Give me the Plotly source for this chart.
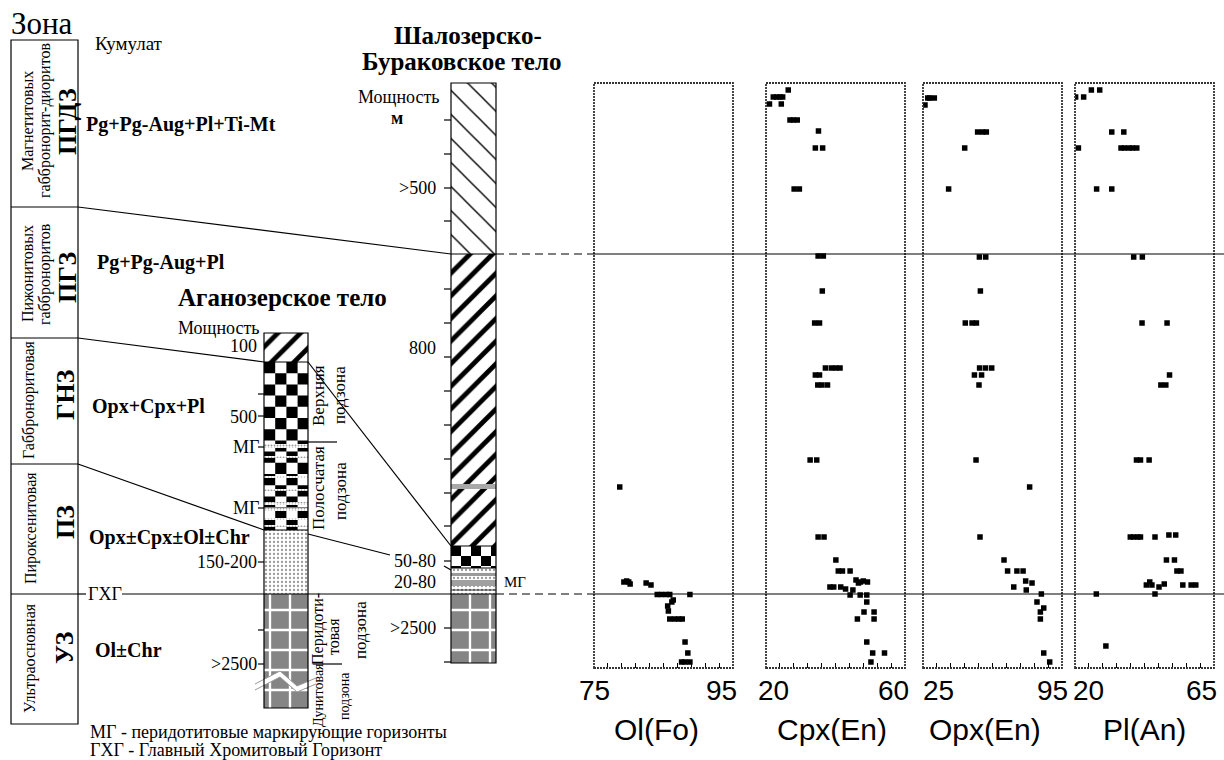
import plotly.graph_objects as go

# ======================= DATA =======================
panel_titles = ["Ol(Fo)", "Cpx(En)", "Opx(En)", "Pl(An)"]
panel_ranges = [(75, 95), (20, 60), (25, 95), (20, 65)]
panel_dticks = [2, 4, 7, 4.5]
panel_ticktext = [("75", "95"), ("20", "60"), ("25", "95"), ("20", "65")]

# stratigraphic level (image-row units of the section, top = 83, bottom = 668)
ol_fo = [78.7, 79.3, 79.7, 80.0, 80.2, 82.5, 83.2, 84.1, 84.7, 85.4, 85.9, 88.8,
         85.6, 86.2, 85.7, 86.4, 85.9, 86.6, 87.2, 87.7, 88.1, 88.5, 87.6, 88.1, 88.8]
ol_level = [487, 582, 581, 582, 584, 583, 585, 594.5, 594.5, 594.5, 594.5, 594.5,
            606, 602, 611, 600, 619, 619, 619, 619, 642, 653, 662, 662, 662]

cpx_en = [26.4, 22.1, 23.1, 24.0, 24.8, 21.0, 24.4, 26.9, 27.9, 29.0, 35.1, 34.2, 36.3, 28.1, 29.6,
          35.0, 36.5, 36.2, 34.0, 35.4, 37.1, 38.8, 40.1, 41.3, 34.2, 35.4, 34.9, 36.1, 37.7, 32.7, 34.6, 35.0, 36.7,
          40.1, 40.8, 42.0, 44.2, 45.9, 46.6, 47.2, 48.0, 49.2, 38.4, 39.5, 41.5, 42.9, 44.2, 45.0, 47.1, 49.0,
          49.0, 48.2, 51.1, 46.3, 51.1, 49.0, 50.7, 54.1, 50.2]
cpx_level = [90, 97, 97, 97, 97, 104, 104, 120, 120, 120, 131, 148, 148, 189, 189,
             256, 256, 291, 323, 323, 368, 368, 368, 368, 375, 375, 385, 385, 385, 460, 460, 537, 537,
             560, 571, 571, 571, 580, 583, 582, 581, 582, 587, 587, 587, 589, 595, 590, 595, 595,
             602, 612, 612, 619, 619, 642, 653, 653, 662]

opx_en = [27.4, 28.4, 30.7, 26.0, 52.5, 55.0, 56.9, 46.0, 37.9,
          53.4, 56.6, 53.9, 46.3, 49.7, 51.9, 53.5, 56.5, 59.6, 50.9, 54.5, 53.2, 51.7, 78.7, 53.7,
          65.8, 67.6, 72.3, 75.4, 70.7, 76.7, 79.9, 77.0, 84.6, 82.4, 85.8, 84.1, 84.1, 85.8, 88.8]
opx_level = [98, 98, 98, 105, 132, 132, 132, 148, 189,
             257, 257, 291, 323, 323, 323, 368, 368, 368, 375, 375, 385, 460, 487, 537,
             560, 571, 571, 571, 587, 581, 583, 590, 594, 602, 608, 612, 619, 653, 662]

pl_an = [20.2, 22.8, 25.3, 28.0, 31.9, 35.8, 21.1, 34.9, 36.0, 37.5, 38.6, 40.0, 27.0, 31.9,
         39.0, 41.8, 41.7, 49.8, 50.6, 47.8, 49.4, 39.9, 41.2, 44.0, 37.9, 39.0, 40.3, 41.2, 45.9, 50.4, 52.6,
         49.6, 52.2, 53.0, 54.3, 43.1, 44.9, 44.2, 47.2, 48.9, 54.9, 57.6, 59.1, 26.9, 45.9, 30.0]
pl_level = [97, 97, 90, 90, 132, 132, 148, 148, 148, 148, 148, 148, 189, 189,
            257, 257, 323, 323, 375, 385, 385, 460, 460, 460, 537, 537, 537, 537, 537, 535, 535,
            560, 560, 571, 571, 585, 585, 582, 587, 584, 585, 585, 585, 594, 594, 646]

zone_desc = [["Магнетитовых", "габбронорит-диоритов"], ["Пижонитовых", "габброноритов"],
             ["Габброноритовая"], ["Пироксенитовая"], ["Ультраосновная"]]
zone_codes = ["ПГДЗ", "ПГЗ", "ГНЗ", "ПЗ", "УЗ"]
cumulates = ["Pg+Pg-Aug+Pl+Ti-Mt", "Pg+Pg-Aug+Pl", "Opx+Cpx+Pl", "Opx±Cpx±Ol±Chr", "Ol±Chr"]

agan_labels = ["100", "500", "МГ", "МГ", "150-200", ">2500"]
shal_labels = [">500", "800", "50-80", "20-80", ">2500"]
footnotes = ["МГ - перидотитовые маркирующие горизонты", "ГХГ - Главный Хромитовый Горизонт"]

# ======================= LAYOUT GEOMETRY =======================
W, H = 1224, 760
SERIF = "Liberation Serif, Times New Roman, serif"
SANS = "Liberation Sans, Arial, sans-serif"
PANEL_X = [(594, 733), (766, 905), (923, 1062), (1075, 1214)]
PANEL_Y = (83, 668)
ZONE_B = [40, 207, 338, 464, 594, 724]

fig = go.Figure()
shapes = []
annos = []


def poly(xs, ys, fill="white", pattern=None):
    kw = {}
    if pattern is not None:
        kw["fillpattern"] = pattern
    fig.add_trace(go.Scatter(x=xs, y=ys, mode="lines", fill="toself", fillcolor=fill,
                             line=dict(color="rgba(0,0,0,0)", width=0), hoverinfo="skip",
                             showlegend=False, xaxis="x", yaxis="y", **kw))


def rect(x0, x1, y0, y1, fill="white", pattern=None):
    poly([x0, x1, x1, x0, x0], [y0, y0, y1, y1, y0], fill, pattern)


def checker(x0, x1, y0, y1, s):
    xs, ys = [], []
    i = 0
    y = y0
    while y < y1 - 0.5:
        j = 0
        x = x0
        while x < x1 - 0.5:
            if (i + j) % 2 == 0:
                a, b = x, min(x + s, x1)
                c, d = y, min(y + s, y1)
                xs += [a, b, b, a, a, None]
                ys += [c, c, d, d, c, None]
            x += s
            j += 1
        y += s
        i += 1
    poly(xs, ys, "black")


def line(x0, y0, x1, y1, w=1.2, color="black", dash=None):
    d = dict(color=color, width=w)
    if dash:
        d["dash"] = dash
    shapes.append(dict(type="line", xref="x", yref="y", x0=x0, y0=y0, x1=x1, y1=y1, line=d, layer="above"))


def box(x0, y0, x1, y1, w=1.2):
    shapes.append(dict(type="rect", xref="x", yref="y", x0=x0, y0=y0, x1=x1, y1=y1,
                       line=dict(color="black", width=w), layer="above"))


def text(t, x, y, size=15, anchor="center", angle=0, font=SERIF, xref="x", yref="y", xshift=0):
    annos.append(dict(text=t, x=x, y=y, xref=xref, yref=yref, showarrow=False, xanchor=anchor,
                      yanchor="middle", textangle=angle, xshift=xshift,
                      font=dict(family=font, size=size, color="black")))


stipple = dict(shape=".", size=4, solidity=0.25, fgcolor="#9a9a9a", bgcolor="white", fgopacity=1)
perid = dict(shape="+", size=20, solidity=0.22, fgcolor="white", bgcolor="#858585", fgopacity=1)
thin_hatch = dict(shape="\\", size=17, solidity=0.08, fgcolor="black", bgcolor="white", fgopacity=1)
bold_hatch = dict(shape="/", size=16, solidity=0.3, fgcolor="black", bgcolor="white", fgopacity=1)

# ---------- Aganozero column ----------
AX0, AX1 = 264, 308
rect(AX0, AX1, 333, 362, pattern=bold_hatch)
rect(AX0, AX1, 362, 530, "white")
checker(AX0, AX1, 362, 530, 11.2)
for (b0, b1) in [(444, 448), (456, 458), (476, 478), (489, 491), (502, 505), (508, 511), (518, 520), (525, 527)]:
    rect(AX0, AX1, b0, b1, "white", pattern=dict(shape=".", size=3, solidity=0.3, fgcolor="#999",
                                                 bgcolor="white", fgopacity=1))
rect(AX0, AX1, 530, 594, pattern=stipple)
rect(AX0, AX1, 594, 708, pattern=perid)
# zig-zag break
zx = [255, 280, 297, 316, 316, 297, 280, 255, 255]
zy = [684, 671, 686, 678, 684, 692, 677, 690, 684]
poly(zx, zy, "white")
for off in (0, 6):
    for k in range(3):
        line(zx[k], zy[k] + off, zx[k + 1], zy[k + 1] + off, w=1, color="#9a9a9a")

# ---------- Shalozero column ----------
SX0, SX1 = 451, 496
rect(SX0, SX1, 83, 254, pattern=thin_hatch)
rect(SX0, SX1, 254, 546, pattern=bold_hatch)
rect(SX0, SX1, 484, 489, "#a8a8a8")
rect(SX0, SX1, 546, 568, "white")
checker(SX0, SX1, 546, 568, 10)
rect(SX0, SX1, 568, 594, pattern=stipple)
rect(SX0, SX1, 573, 576, "#9a9a9a")
rect(SX0, SX1, 580, 586, "#a0a0a0")
rect(SX0, SX1, 594, 663, pattern=perid)

# ---------- scatter panels ----------
series_x = [ol_fo, cpx_en, opx_en, pl_an]
series_y = [ol_level, cpx_level, opx_level, pl_level]
layout_axes = {}
ydom = [1 - PANEL_Y[1] / H, 1 - PANEL_Y[0] / H]
for i in range(4):
    n = i + 2
    px0, px1 = PANEL_X[i]
    lo, hi = panel_ranges[i]
    layout_axes[f"xaxis{n}"] = dict(domain=[px0 / W, px1 / W], range=[lo, hi], anchor=f"y{n}",
                                    tick0=lo, dtick=panel_dticks[i], ticks="inside", ticklen=5,
                                    tickcolor="black", tickwidth=1, showticklabels=False,
                                    showgrid=False, zeroline=False, showline=False, fixedrange=True)
    layout_axes[f"yaxis{n}"] = dict(domain=ydom, range=[PANEL_Y[1], PANEL_Y[0]], anchor=f"x{n}",
                                    visible=False, showgrid=False, zeroline=False, fixedrange=True)
    fig.add_trace(go.Scatter(x=series_x[i], y=series_y[i], mode="markers", xaxis=f"x{n}", yaxis=f"y{n}",
                             marker=dict(symbol="square", size=5.5, color="black"),
                             showlegend=False, hoverinfo="skip"))
    shapes.append(dict(type="rect", xref=f"x{n} domain", yref=f"y{n} domain", x0=0, x1=1, y0=0, y1=1,
                       line=dict(color="#333", width=1.8, dash="2px,1px"), layer="above"))
    lt, rt = panel_ticktext[i]
    shifts = [(0, -12), (7, -12), (15, -10), (13, -13)][i]
    text(lt, lo, 690, size=28, font=SANS, xref=f"x{n}", xshift=shifts[0])
    text(rt, hi, 690, size=28, font=SANS, xref=f"x{n}", xshift=shifts[1])
    text(panel_titles[i], [656, 832, 985, 1144][i], 729, size=30, font=SANS)

# ---------- outlines & lines ----------
box(11, ZONE_B[0], 78, ZONE_B[-1])
for yb in ZONE_B[1:-1]:
    line(11, yb, 78, yb)
box(AX0, 333, AX1, 708)
line(AX0, 362, AX1, 362)
line(AX0, 530, AX1, 530)
line(AX0, 594, AX1, 594)
box(SX0, 83, SX1, 663)
for yb in (254, 546, 568, 594):
    line(SX0, yb, SX1, yb)
line(SX0, 590, SX1, 590, w=0.8)

# connecting lines
line(78, 207, SX0, 254)
line(78, 338, AX0, 362)
line(AX1, 362, SX0, 546)
line(78, 464, AX0, 530)
line(AX1, 534, 390, 555)
line(444, 566, SX0, 570)
# ГХГ
line(78, 594, 86, 594)
line(122, 594, AX0, 594)
line(AX1, 594, SX0, 594)
line(SX1, 594, 594, 594, dash="8px,5px")
line(594, 594, W, 594)
line(SX1, 254, 594, 254, dash="8px,5px")
line(594, 254, W, 254)
# subzone separators
line(AX1, 442, 337, 442)
line(313, 664, 342, 664)

# ticks
for ty in (394, 416, 447, 508, 562, 630, 664):
    line(258, ty, AX0, ty)
for ty in (120, 154, 188, 221, 289, 323, 357, 391, 425, 459, 493, 526, 561, 628, 662):
    line(444, ty, SX0, ty)

# ---------- texts ----------
text("Зона", 9, 23, size=31, anchor="left")
text("Кумулат", 93, 43, size=19, anchor="left")
cum_pos = [(84, 124), (95, 262), (90, 406), (87, 537), (93, 650)]
for t, (x, y) in zip(cumulates, cum_pos):
    text(f"<b>{t}</b>", x, y, size=20, anchor="left")

desc_x = [[27, 45], [27, 45], [29], [31], [30]]
desc_y = [121, 274, 400, 528, 658]
code_x = [67, 67, 65, 65, 64]
code_y = [122, 278, 395, 522, 648]
for k in range(5):
    for t, x in zip(zone_desc[k], desc_x[k]):
        text(t, x, desc_y[k], size=16, angle=-90)
    text(f"<b>{zone_codes[k]}</b>", code_x[k], code_y[k], size=26, angle=-90)

text("<b>Аганозерское тело</b>", 176, 297, size=25, anchor="left")
text("Мощность", 262, 328, size=18, anchor="right")
agan_y = [346, 417, 447, 508, 562, 664]
for t, y in zip(agan_labels, agan_y):
    text(t, 259 if t != "МГ" else 261, y, size=18, anchor="right")
text("ГХГ", 105, 594, size=18)

sub = [("Верхняя", 318, 396, 17), ("подзона", 339, 395, 17), ("Полосчатая", 318, 488, 17),
       ("подзона", 340, 491, 17), ("Перидоти-", 318, 629, 16), ("товая", 333, 637, 16),
       ("подзона", 360, 630, 17), ("Дунитовая", 318, 695, 14), ("подзона", 344, 696, 14)]
for t, x, y, s in sub:
    text(t, x, y, size=s, angle=-90)

text("<b>Шалозерско-</b>", 468, 35, size=25)
text("<b>Бураковское тело</b>", 462, 61, size=25)
text("Мощность", 442, 97, size=18, anchor="right")
text("<b>м</b>", 397, 118, size=18)
shal_y = [188, 348, 561, 582, 628]
for t, y in zip(shal_labels, shal_y):
    text(t, 438, y, size=18, anchor="right")
text("МГ", 502, 582, size=15, anchor="left")

text(footnotes[0], 88, 732, size=18, anchor="left")
text(footnotes[1], 88, 750, size=18, anchor="left")

fig.update_layout(
    width=W, height=H, margin=dict(l=0, r=0, t=0, b=0),
    paper_bgcolor="white", plot_bgcolor="rgba(0,0,0,0)",
    xaxis=dict(range=[0, W], domain=[0, 1], visible=False, fixedrange=True),
    yaxis=dict(range=[H, 0], domain=[0, 1], visible=False, fixedrange=True),
    shapes=shapes, annotations=annos, showlegend=False, **layout_axes)

fig.write_html("out.html", config={"displayModeBar": False},
               post_script="document.body.style.margin='0';document.body.style.overflow='hidden';")
